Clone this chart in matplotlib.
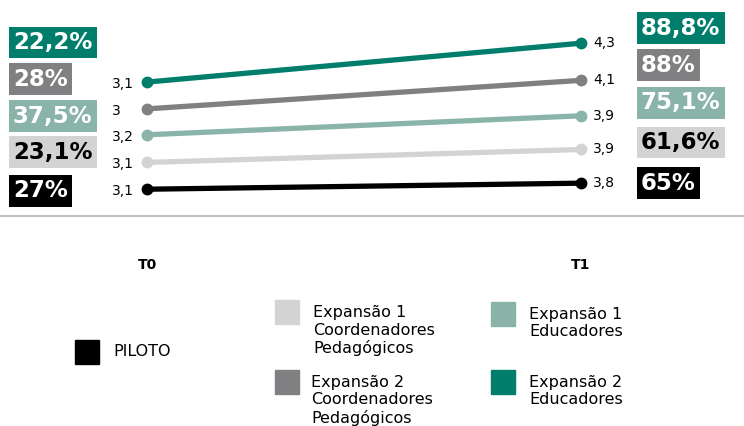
import matplotlib.pyplot as plt
from matplotlib.patches import Rectangle
import numpy as np

plt.rcParams['font.family'] = ['DejaVu Sans']

# data, bottom series first (chart is stacked)
periods = ['T0', 'T1']
series = ['PILOTO',
          'Expansão 1\nCoordenadores\nPedagógicos',
          'Expansão 1\nEducadores',
          'Expansão 2\nCoordenadores\nPedagógicos',
          'Expansão 2\nEducadores']
t0 = [3.1, 3.1, 3.2, 3.0, 3.1]
t1 = [3.8, 3.9, 3.9, 4.1, 4.3]
pct_t0 = ['27%', '23,1%', '37,5%', '28%', '22,2%']
pct_t1 = ['65%', '61,6%', '75,1%', '88%', '88,8%']

colors = ['#000000', '#d3d3d4', '#8ab3aa', '#808083', '#007e6b']
box_text = ['white', 'black', 'white', 'white', 'white']

W, H = 744, 426
fig = plt.figure(figsize=(W / 100, H / 100), dpi=100)
ax = fig.add_axes([0, 1 - 216 / H, 1, 216 / H])


def px(x, y):
    return x / W, 1 - y / H


vals = np.array([t0, t1])
stacked = np.cumsum(vals, axis=1)
xs = np.arange(len(periods))

for i in range(len(series)):
    ax.plot(xs, stacked[:, i], color=colors[i], lw=3.8, solid_capstyle='round',
            marker='o', ms=7.5, zorder=3)
    ax.annotate(f'{t0[i]:g}'.replace('.', ','), (0, stacked[0, i]),
                xytext=(-35, -2), textcoords='offset pixels', ha='left', va='center',
                fontsize=10)
    ax.annotate(f'{t1[i]:g}'.replace('.', ','), (1, stacked[1, i]),
                xytext=(12, 0), textcoords='offset pixels', ha='left', va='center',
                fontsize=10)

ax.set_xlim(-147 / 434, (W - 147) / 434)
ax.set_ylim(0, 25)
for s in ['top', 'left', 'right']:
    ax.spines[s].set_visible(False)
ax.spines['bottom'].set_color('#c4c4c4')
ax.spines['bottom'].set_linewidth(1.5)
ax.set_yticks([])
ax.set_xticks(xs, periods)
ax.tick_params(axis='x', length=0, pad=30, labelsize=10)
for lab in ax.get_xticklabels():
    lab.set_fontweight('bold')

# percentage boxes
left_y = [191, 152, 116, 79, 42.5]
right_y = [183, 142.5, 103, 65, 28]
for i in range(len(series)):
    for xpos, ypos, txt in [(13, left_y[i], pct_t0[i]), (641, right_y[i], pct_t1[i])]:
        fig.text(*px(xpos, ypos), txt, ha='left', va='center', fontsize=16.5,
                 fontweight='bold', color=box_text[i],
                 bbox=dict(boxstyle='square,pad=0.18', fc=colors[i], ec='none'))

# legend
leg = [(75, 340, 113, 352), (275, 300, 313, 331), (491, 302, 529, 323),
       (275, 370, 311, 400), (491, 370, 529, 391)]
for i, (bx, by, tx, ty) in enumerate(leg):
    fig.patches.append(Rectangle(px(bx, by + 24), 24 / W, 24 / H, color=colors[i],
                                 transform=fig.transFigure, figure=fig))
    fig.text(*px(tx, ty), series[i], ha='left', va='center', fontsize=11.5,
             linespacing=1.2)

fig.savefig('out.png', dpi=100)
